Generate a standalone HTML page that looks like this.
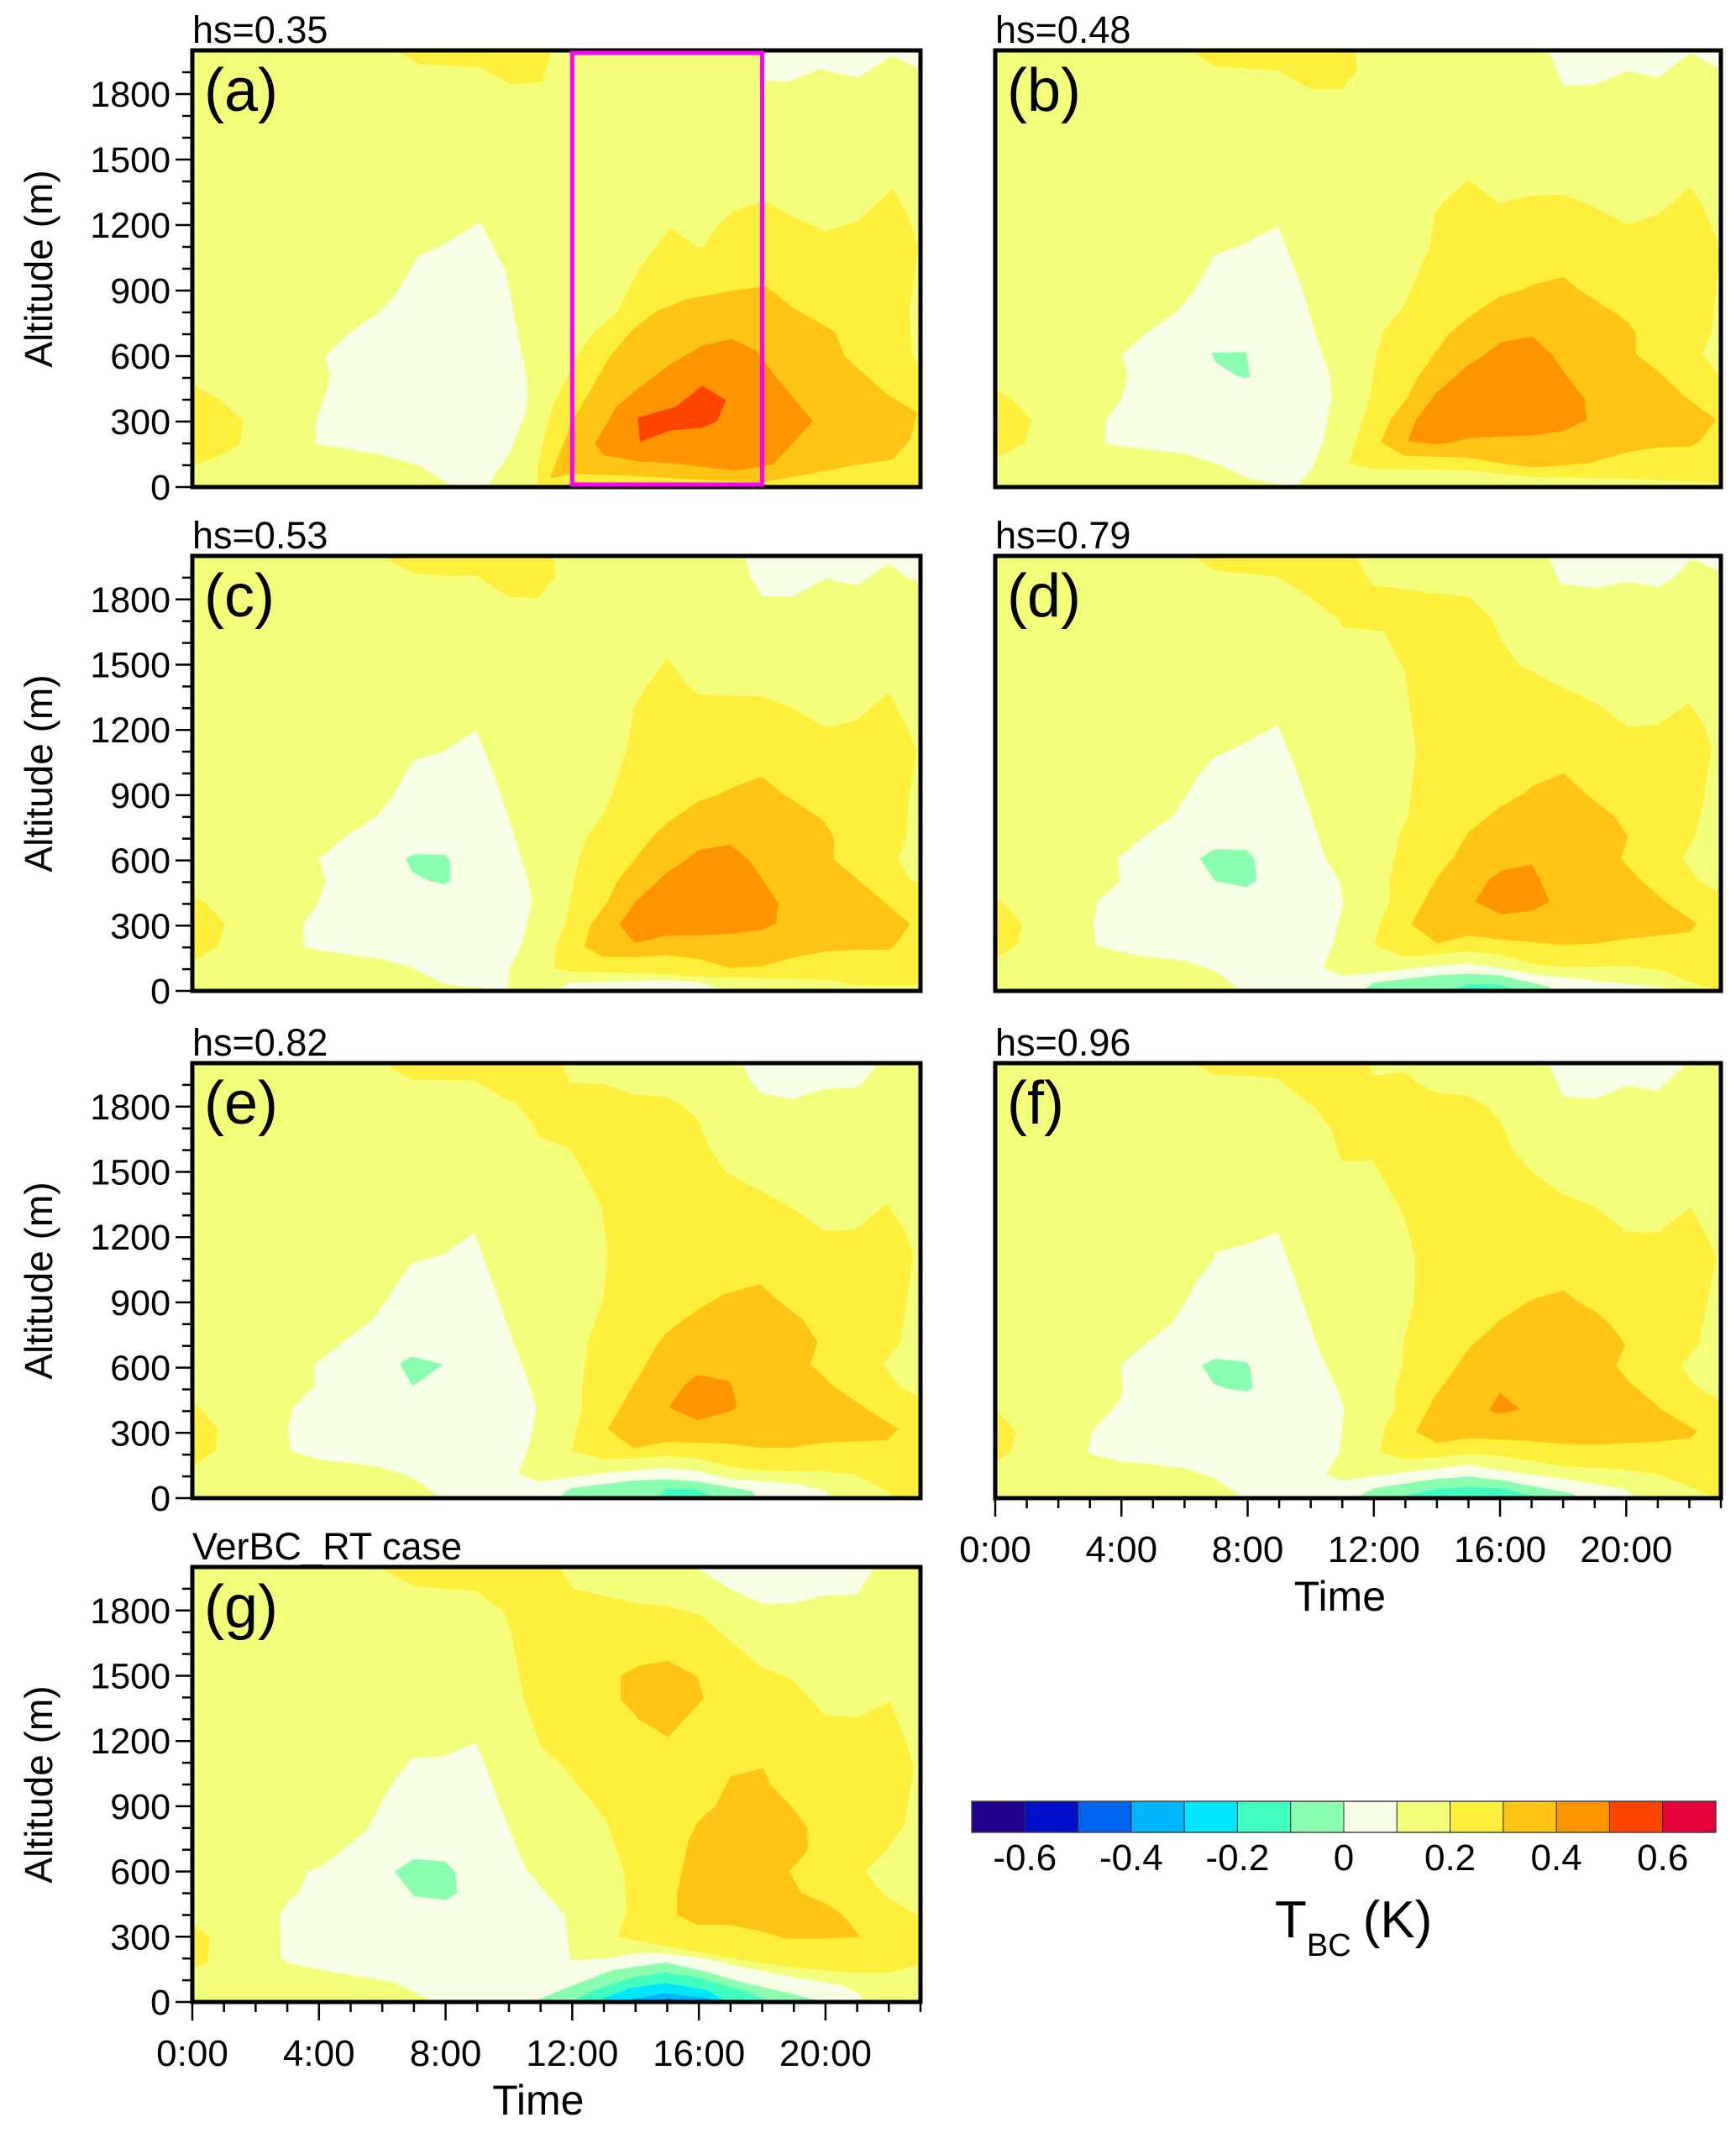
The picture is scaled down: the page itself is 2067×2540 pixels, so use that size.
<!DOCTYPE html>
<html><head><meta charset="utf-8">
<style>
html,body{margin:0;padding:0;background:#fff;}
svg{display:block;font-family:"Liberation Sans",Arial,sans-serif;}
</style></head>
<body>
<svg id="fig" width="2067" height="2540" viewBox="0 0 2067 2540" xmlns="http://www.w3.org/2000/svg"></svg>
<script>
// ---------- DATA (hours, metres) ----------
const levelBounds = [-0.7,-0.6,-0.5,-0.4,-0.3,-0.2,-0.1,0,0.1,0.2,0.3,0.4,0.5,0.6,0.7];
const levelColors = ['#22008f','#0010c8','#0066ee','#00b4ff','#00e6ff','#40ffc0','#8affb0','#f6ffe6','#f3ff7a','#ffee3c','#ffc414','#ff9400','#ff4400','#e4003a'];
const cbTickLabels = ['-0.6','-0.4','-0.2','0','0.2','0.4','0.6'];
const cbTickValues = [-0.6,-0.4,-0.2,0,0.2,0.4,0.6];
const yTickValues = [0,300,600,900,1200,1500,1800];
const xTickValues = [0,4,8,12,16,20];
const xTickLabels = ['0:00','4:00','8:00','12:00','16:00','20:00'];
const hsTitles = ['hs=0.35','hs=0.48','hs=0.53','hs=0.79','hs=0.82','hs=0.96','VerBC_RT case'];
const highlightWindow = [12,18];

// panel a
const aWhite=[[3.9,200],[3.9,300],[4.2,420],[4.35,510],[4.2,600],[5,710],[5.9,800],[6.5,900],[7.15,1060],[7.8,1100],[9.1,1215],[9.9,990],[10.5,540],[10.6,420],[10.5,330],[10,150],[9.3,0],[8.2,0],[7.15,100],[5.9,150],[4.2,190]];
const aWhiteTop=[[18,2000],[18,1863],[18.8,1856],[19.85,1915],[20.3,1895],[21.06,1878],[22.1,1975],[23,1915],[23,2000]];
const aYellowTop=[[6.4,2000],[7.15,1937],[9.1,1922],[10,1846],[11.07,1856],[11.35,2000]];
const aYellowLeft=[[0,471],[0.9,398],[1.6,302],[1.5,199],[1.08,155],[0,96]];
const aYellow=[[10.9,0],[10.9,100],[11.35,360],[12.2,610],[12.75,720],[13.4,795],[14.15,1010],[15.1,1185],[16.1,1090],[16.6,1200],[17.1,1265],[18.1,1310],[18.8,1250],[20,1170],[21.06,1220],[22.1,1365],[22.56,1260],[22.93,1100],[22.65,800],[22.75,600],[23,550],[23,0]];
const aGold=[[11.3,40],[11.5,120],[12,300],[12.6,450],[13.2,600],[13.9,720],[14.6,800],[15.6,860],[17.1,900],[18.1,920],[19,820],[20.3,710],[20.6,600],[21.9,430],[22.9,340],[22.65,210],[22.1,125],[20.9,100],[19.5,60],[18,22],[16.5,30],[14.1,50],[12,60]];
const aOrange=[[12.72,199],[13.0,147],[14.06,118],[15.08,110],[17.14,74],[18.35,103],[19.6,302],[18.45,501],[17.8,626],[17.05,678],[16.11,648],[15.08,560],[14.06,449],[13.4,368]];
const aRed=[[14.06,317],[14.15,206],[15.08,258],[16.11,272],[16.58,302],[16.86,398],[16.11,464],[15.27,368]];

// panel b
const bYellowTop=[[6.19,2000],[6.96,1927],[8.96,1908],[9.99,1823],[10.98,1823],[11.47,1908],[11.42,2000]];
const bWhiteTop=[[17.54,2000],[18.01,1836],[19.01,1844],[20.02,1905],[21.0,1876],[22.04,1987],[23,1913],[23,2000]];
const bWhite=[[4.02,609],[4.86,714],[5.79,808],[6.37,910],[6.96,1064],[7.77,1105],[8.96,1195],[9.73,910],[10.17,692],[10.61,506],[10.66,404],[10.39,205],[10.02,77],[9.51,0],[8.03,39],[7.0,109],[5.97,154],[3.98,186],[3.46,205],[3.51,308],[4.01,404],[4.2,506]];
const bGreen=[[6.85,615],[7.96,618],[8.08,506],[7.96,497],[7.66,510],[7.0,570]];
const bYellowLeft=[[0,449],[0.52,404],[1.15,308],[0.96,205],[0,128]];
const bYellow=[[11.2,109],[11.87,404],[12.09,609],[12.31,712],[12.97,833],[13.78,1103],[13.93,1250],[14.22,1308],[15.0,1408],[15.99,1295],[16.14,1308],[17.02,1336],[18.01,1338],[18.72,1301],[20.02,1203],[21.0,1246],[22.04,1372],[22.4,1295],[22.92,1115],[23,1103],[22.7,705],[22.4,609],[23,506],[23,19],[20.05,39],[17.1,45],[15.03,77],[11.94,83]];
const bGold=[[12.23,205],[12.53,308],[13.04,404],[13.41,506],[14.37,699],[15.0,776],[15.99,872],[16.73,904],[17.02,926],[18.01,962],[18.5,904],[19.68,795],[20.05,756],[20.31,705],[20.31,609],[21.0,532],[21.89,410],[22.85,308],[22.33,212],[22.04,186],[21.0,182],[20.05,160],[18.79,109],[17.1,90],[16.21,105],[15.0,135],[12.97,144]];
const bOrange=[[13.09,212],[13.34,308],[13.97,430],[15.0,558],[15.48,603],[16.04,664],[17.02,689],[17.66,605],[18.06,519],[18.69,404],[18.75,308],[18.01,256],[17.02,237],[15.99,231],[15.0,224],[14.59,208],[13.97,195]];

// panel c
const cYellowTop=[[5.97,2000],[6.96,1921],[7.96,1908],[8.96,1910],[9.99,1812],[10.91,1805],[11.47,1908],[11.42,2000]];
const cWhiteTop=[[17.47,2000],[17.61,1908],[18.01,1814],[18.98,1814],[20.02,1897],[21.0,1863],[21.99,1964],[22.55,1904],[22.92,1885],[23,2000]];
const cWhite=[[4.01,609],[4.86,712],[5.82,801],[6.34,897],[6.96,1058],[7.96,1103],[8.96,1199],[9.58,974],[10.17,718],[10.61,506],[10.73,404],[10.39,205],[10.02,103],[9.95,0],[7.96,32],[6.96,105],[5.97,147],[4.01,186],[3.51,205],[3.51,308],[3.98,404],[4.2,506]];
const cGreen=[[6.75,605],[7.0,628],[7.96,626],[8.14,603],[8.14,506],[7.96,490],[7.49,506],[6.96,545]];
const cYellowLeft=[[0,436],[0.44,404],[1.03,308],[0.81,205],[0,135]];
const cYellow=[[11.42,105],[11.5,212],[11.79,308],[12.06,506],[12.23,609],[12.46,712],[12.97,808],[13.27,904],[13.71,1109],[13.97,1308],[14.37,1404],[15.0,1530],[15.62,1410],[15.99,1363],[18.01,1353],[18.94,1301],[20.02,1212],[21.0,1244],[21.99,1369],[22.55,1218],[22.88,1103],[22.63,897],[22.55,705],[22.29,603],[22.7,506],[23,500],[23,26],[21.0,26],[20.02,51],[15.99,64],[15.0,77],[11.94,90]];
const cGold=[[12.38,205],[12.6,308],[13.09,404],[13.44,506],[14.56,712],[15.0,772],[15.99,872],[16.66,904],[17.02,933],[17.98,985],[18.69,904],[19.75,801],[19.97,776],[20.27,705],[20.27,605],[21.74,423],[22.67,308],[22.18,208],[21.99,190],[21.0,189],[20.02,182],[19.01,154],[17.98,115],[17.02,105],[15.99,147],[15.0,164],[13.97,156],[12.97,156]];
const cOrange=[[13.49,305],[13.97,404],[14.71,506],[15.0,545],[15.55,596],[15.99,647],[16.98,673],[17.57,603],[18.01,513],[18.5,404],[18.43,308],[18.01,282],[17.02,263],[15.99,256],[15.0,254],[13.97,221]];
const cWhiteBottom=[[11.5,0],[11.94,39],[15.0,49],[15.99,41],[16.88,0]];

// panel d
const dYellow=[[6.26,2000],[11.42,2000],[11.79,1904],[11.97,1865],[13.93,1827],[15.03,1812],[15.74,1708],[16.04,1609],[16.58,1503],[17.84,1404],[19.09,1321],[20.02,1215],[21.0,1224],[21.99,1323],[22.48,1218],[22.7,1109],[22.4,833],[22.18,712],[21.79,609],[22.26,513],[23,449],[23,0],[22.18,32],[21.08,96],[20.05,115],[18.01,109],[17.1,122],[15.99,167],[15.0,182],[12.97,156],[12.01,212],[12.23,321],[12.5,410],[12.5,506],[12.65,609],[12.79,712],[13.09,801],[13.34,1103],[13.12,1333],[13.0,1462],[12.9,1494],[12.31,1654],[10.98,1673],[10.91,1705],[9.99,1808],[8.96,1904],[6.96,1933]];
const dWhiteTop=[[17.54,2000],[17.91,1872],[19.01,1853],[20.02,1882],[21.05,1856],[21.59,1908],[22.04,1985],[23,1929],[23,2000]];
const dWhite=[[3.86,609],[4.72,712],[5.67,808],[6.04,897],[6.31,955],[6.56,1013],[6.96,1077],[7.59,1115],[8.96,1224],[9.58,1000],[10.02,808],[10.47,609],[10.91,506],[11.03,404],[10.69,205],[10.39,109],[10.98,71],[12.01,83],[13.93,115],[15.0,126],[15.99,105],[17.1,77],[19.16,45],[21.08,19],[21.67,0],[7.81,0],[6.96,92],[5.97,139],[5.01,154],[3.91,180],[3.17,212],[3.12,308],[3.24,410],[3.98,506]];
const dGreen=[[6.49,609],[6.96,651],[7.96,647],[8.22,609],[8.28,506],[7.96,477],[6.96,506]];
const dGreenBottom=[[11.64,0],[12.01,39],[13.97,71],[15.0,79],[15.99,71],[17.54,19],[17.69,0]];
const dAquaBottom=[[14.52,0],[15.0,32],[15.99,28],[16.51,0]];
const dYellowLeft=[[0,423],[0.22,410],[0.85,308],[0.71,212],[0,148]];
const dGold=[[13.19,308],[13.56,404],[13.97,513],[14.56,622],[15.0,731],[15.99,846],[16.73,904],[17.02,942],[18.01,1000],[18.69,910],[19.6,808],[20.05,712],[19.83,609],[20.34,526],[21.23,410],[22.23,310],[22.04,272],[21.08,256],[20.05,241],[19.01,218],[18.01,212],[17.1,224],[15.99,237],[15.0,254],[14.0,218]];
const dOrange=[[15.21,410],[15.62,506],[16.04,554],[17.02,580],[17.28,506],[17.57,410],[17.02,369],[16.04,353]];

// panel e
const eYellow=[[6.07,2000],[6.93,1923],[8.92,1921],[9.91,1833],[10.24,1814],[10.79,1718],[10.94,1660],[11.91,1609],[12.31,1513],[12.68,1410],[12.94,1333],[13.12,1115],[12.97,910],[12.5,718],[12.31,513],[12.31,423],[12.16,327],[11.97,218],[12.97,180],[13.93,182],[14.96,195],[15.92,182],[16.95,147],[17.98,126],[19.97,122],[20.93,109],[22.04,26],[22.1,0],[23,0],[23,462],[22.33,513],[21.82,615],[22.38,718],[22.77,1115],[22.55,1218],[21.93,1353],[20.93,1233],[19.93,1231],[19.09,1321],[17.91,1417],[16.95,1487],[16.8,1506],[16.29,1622],[15.95,1744],[15.4,1814],[14.96,1844],[13.93,1856],[12.94,1904],[11.94,1910],[11.64,2000]];
const eWhiteTop=[[17.39,2000],[17.61,1923],[17.95,1862],[18.94,1833],[19.93,1882],[20.96,1885],[21.23,1917],[21.67,2000]];
const eWhite=[[3.86,615],[4.72,714],[5.67,818],[6.16,913],[6.34,962],[6.93,1080],[7.89,1118],[8.92,1221],[9.43,1013],[10.17,705],[10.54,564],[10.88,417],[10.61,224],[10.29,115],[10.91,77],[12.97,115],[14.96,141],[15.92,126],[16.95,90],[19.16,64],[20.05,32],[20.05,0],[7.89,0],[6.93,96],[5.9,144],[3.91,180],[3.1,218],[3.02,321],[3.17,417],[3.86,513]];
const eGreen=[[6.56,618],[6.93,651],[7.92,615],[6.96,515]];
const eGreenBottom=[[11.57,0],[11.94,45],[13.93,80],[14.96,87],[15.92,77],[17.69,32],[17.84,0]];
const eAquaBottom=[[14.74,0],[14.96,45],[15.92,41],[16.51,0]];
const eYellowLeft=[[0,430],[0.22,417],[0.81,318],[0.74,218],[0,144]];
const eGold=[[13.12,318],[13.86,500],[14.74,718],[14.96,759],[15.92,862],[16.8,938],[17.95,985],[18.43,917],[19.28,821],[19.75,718],[19.53,615],[20.27,513],[21.23,417],[22.29,318],[21.96,267],[19.97,256],[18.91,233],[17.95,231],[16.95,250],[14.96,259],[13.94,228]];
const eOrange=[[15.06,417],[15.52,515],[15.95,567],[16.95,538],[17.05,513],[17.2,417],[16.95,397],[15.95,359]];

// panel f
const fYellow=[[6.26,2000],[6.96,1946],[7.96,1942],[8.96,1929],[9.21,1897],[10.1,1801],[10.61,1705],[10.98,1551],[11.97,1551],[12.38,1449],[12.94,1301],[13.09,1231],[13.31,1103],[13.27,897],[13.09,801],[12.94,712],[12.9,609],[12.68,506],[12.68,410],[12.35,327],[12.2,212],[12.97,180],[13.93,186],[14.96,205],[15.99,195],[16.95,173],[17.98,147],[19.97,131],[21.0,109],[22.04,51],[22.55,19],[22.7,0],[23,0],[23,449],[22.18,519],[21.74,609],[22.33,712],[22.55,885],[22.85,1103],[22.55,1205],[22.04,1336],[21.0,1221],[20.02,1224],[18.98,1340],[17.91,1404],[17.02,1500],[16.39,1603],[16.04,1724],[15.6,1801],[15.0,1849],[13.97,1865],[13.41,1904],[12.97,1959],[12.01,1942],[11.79,2000]];
const fWhiteTop=[[17.54,2000],[18.01,1846],[19.01,1836],[20.02,1897],[21.0,1872],[21.89,1994],[21.9,2000]];
const fWhite=[[3.98,609],[4.79,712],[5.6,805],[6.07,910],[6.41,1006],[6.93,1096],[6.96,1128],[7.96,1167],[8.96,1221],[9.58,974],[10.17,718],[10.49,609],[10.83,506],[11.06,410],[10.91,212],[10.49,109],[10.98,83],[12.97,118],[15.0,154],[15.99,128],[17.98,90],[19.97,41],[20.34,0],[7.89,0],[6.96,90],[5.97,139],[3.98,169],[2.92,205],[3.07,308],[3.95,449],[4.05,506]];
const fGreen=[[6.56,609],[6.96,641],[7.96,626],[8.08,603],[8.15,506],[7.96,490],[7.3,506],[6.93,526]];
const fGreenBottom=[[11.42,0],[12.01,45],[13.93,87],[15.0,99],[15.99,83],[18.35,19],[18.43,0]];
const fAquaBottom=[[12.68,0],[13.93,41],[15.0,51],[15.99,45],[17.39,0]];
const fYellowLeft=[[0,410],[0.66,308],[0.47,208],[0,164]];
const fGold=[[13.34,305],[13.93,468],[14.3,538],[15.0,686],[15.99,818],[17.02,913],[18.01,955],[18.5,900],[19.01,859],[19.49,801],[19.97,705],[19.68,609],[20.12,532],[21.15,404],[22.26,308],[22.04,276],[21.0,260],[19.01,246],[17.98,250],[17.02,263],[15.0,276],[14.0,254]];
const fOrange=[[15.65,404],[15.99,485],[16.63,408],[15.99,387]];

// panel g
const gYellow=[[5.97,2000],[6.44,1954],[7.09,1909],[8.96,1891],[9.86,1791],[10.08,1691],[10.46,1400],[11.02,1173],[11.67,1091],[13.07,836],[13.63,600],[13.72,418],[13.44,300],[14.66,264],[16.43,218],[17.46,191],[19.23,155],[20.72,136],[22.03,136],[22.96,173],[23,173],[23,391],[21.84,491],[21.25,600],[21.94,700],[22.5,818],[22.78,1073],[22.59,1182],[22.03,1382],[21.0,1309],[19.98,1318],[18.95,1482],[17.92,1545],[16.06,1778],[14.94,1822],[14.1,1831],[12.04,1900],[11.58,2000]];
const gWhiteTop=[[15.87,2000],[16.99,1900],[18.02,1831],[18.95,1833],[19.98,1869],[21.0,1873],[21.56,2000]];
const gWhite=[[2.76,400],[3.08,473],[3.36,500],[3.64,600],[4.01,618],[4.67,691],[5.51,791],[6.25,991],[6.91,1118],[7.93,1131],[8.96,1191],[9.34,1054],[9.99,800],[10.55,609],[11.76,400],[11.95,191],[13.07,200],[14.1,227],[15.03,222],[16.24,200],[17.55,155],[19.23,109],[20.54,76],[21.1,33],[21.19,0],[7.65,0],[6.35,91],[4.11,145],[2.99,182],[2.8,200]];
const gGreen=[[6.39,600],[7.0,658],[7.99,645],[8.31,596],[8.36,500],[8.02,469],[7.0,487]];
const gLightGreenBottom=[[10.74,0],[11.95,73],[13.26,145],[14.94,182],[16.06,145],[17.46,87],[18.86,40],[19.98,0]];
const gAquaBottom=[[11.95,0],[12.7,55],[13.82,109],[14.94,136],[16.06,109],[17.36,55],[18.3,0]];
const gCyanBottom=[[12.7,0],[13.82,64],[14.94,87],[16.24,55],[16.9,0]];
const gSkyBottom=[[13.44,0],[14.94,40],[16.24,18],[16.62,0]];
const gBlueBottom=[[14.38,0],[15.03,15],[15.68,0]];
const gGold1=[[13.54,1500],[14.1,1546],[15.03,1568],[15.96,1495],[16.15,1396],[15.03,1218],[14.1,1300],[13.54,1391]];
const gGold2=[[15.31,500],[15.68,745],[15.96,827],[16.52,900],[16.99,1036],[18.02,1076],[18.26,1000],[18.95,895],[19.42,800],[19.45,700],[18.86,600],[19.23,500],[19.98,455],[20.54,400],[21.1,300],[19.79,291],[18.76,291],[17.92,327],[16.99,355],[15.96,355],[15.31,400]];
const gYellowLeft=[[0,355],[0.56,300],[0.47,182],[0,155]];

// layers: [polygon, colour index]
const layersA=[[aWhite,7],[aWhiteTop,7],[aYellowTop,9],[aYellowLeft,9],[aYellow,9],[aGold,10],[aOrange,11],[aRed,12]];
const layersB=[[bWhite,7],[bGreen,6],[bWhiteTop,7],[bYellowTop,9],[bYellowLeft,9],[bYellow,9],[bGold,10],[bOrange,11]];
const layersC=[[cWhite,7],[cGreen,6],[cWhiteTop,7],[cYellowTop,9],[cYellowLeft,9],[cYellow,9],[cGold,10],[cOrange,11],[cWhiteBottom,7]];
const layersD=[[dWhite,7],[dGreen,6],[dGreenBottom,6],[dAquaBottom,5],[dWhiteTop,7],[dYellowLeft,9],[dYellow,9],[dGold,10],[dOrange,11]];
const layersE=[[eWhite,7],[eGreen,6],[eGreenBottom,6],[eAquaBottom,5],[eWhiteTop,7],[eYellowLeft,9],[eYellow,9],[eGold,10],[eOrange,11]];
const layersF=[[fWhite,7],[fGreen,6],[fGreenBottom,6],[fAquaBottom,5],[fWhiteTop,7],[fYellowLeft,9],[fYellow,9],[fGold,10],[fOrange,11]];
const layersG=[[gWhite,7],[gGreen,6],[gLightGreenBottom,6],[gAquaBottom,5],[gCyanBottom,4],[gSkyBottom,3],[gBlueBottom,2],[gWhiteTop,7],[gYellowLeft,9],[gYellow,9],[gGold1,10],[gGold2,10]];

// ---------- LAYOUT ----------
const NS='http://www.w3.org/2000/svg';
const svg=document.getElementById('fig');
function mk(tag,attrs,parent){const e=document.createElementNS(NS,tag);for(const k in attrs)e.setAttribute(k,attrs[k]);(parent||svg).appendChild(e);return e;}
const HMAX=23, AMAX=2000;
const panels=[
 {id:'a',layers:layersA,x:229,y:60,w:867,h:520,left:true,xlab:false,title:0},
 {id:'b',layers:layersB,x:1185,y:60,w:864,h:520,left:false,xlab:false,title:1},
 {id:'c',layers:layersC,x:229,y:662,w:867,h:518,left:true,xlab:false,title:2},
 {id:'d',layers:layersD,x:1185,y:662,w:864,h:518,left:false,xlab:false,title:3},
 {id:'e',layers:layersE,x:229,y:1266,w:867,h:518,left:true,xlab:false,title:4},
 {id:'f',layers:layersF,x:1185,y:1266,w:864,h:518,left:false,xlab:true,title:5},
 {id:'g',layers:layersG,x:229,y:1866,w:867,h:518,left:true,xlab:true,title:6}
];
panels.forEach(p=>{
  const xs=h=>p.x+h/HMAX*p.w;
  const ys=a=>p.y+p.h-a/AMAX*p.h;
  const g=mk('g',{});
  
  
  const cp=mk('clipPath',{id:'clip-'+p.id},g);
  mk('rect',{x:p.x,y:p.y,width:p.w,height:p.h},cp);
  const plot=mk('g',{'clip-path':'url(#clip-'+p.id+')'},g);
  const bg=mk('rect',{x:p.x,y:p.y,width:p.w,height:p.h,fill:levelColors[8]},plot);
  
  
  p.layers.forEach(([poly,ci])=>{
    const pts=poly.map(([h,a])=>xs(h).toFixed(1)+','+ys(a).toFixed(1)).join(' ');
    const el=mk('polygon',{points:pts,fill:levelColors[ci]},plot);
    
    
  });
  const fr=mk('rect',{x:p.x,y:p.y,width:p.w,height:p.h,fill:'none',stroke:'#000','stroke-width':5},g);
  
  
  if(p.id==='a'){
    const hb=mk('rect',{x:xs(highlightWindow[0]),y:p.y+3,width:xs(highlightWindow[1])-xs(highlightWindow[0]),height:p.h-6,fill:'none',stroke:'#ff00ff','stroke-width':5},g);
    
    
  }
  const tl=mk('text',{x:p.x+14,y:p.y+72,'font-size':72,fill:'#000'},g);
  tl.textContent='('+p.id+')';
  
  
  const tt=mk('text',{x:p.x,y:p.y-9,'font-size':45,fill:'#000'},g);
  tt.textContent=hsTitles[p.title];
  
  
  if(p.left){
    for(let a=0;a<=1900;a+=100){
      const major=yTickValues.includes(a);
      mk('line',{x1:p.x-(major?20:12),x2:p.x,y1:ys(a),y2:ys(a),stroke:'#000','stroke-width':2.5},g);
    }
    yTickValues.forEach(v=>{
      const t=mk('text',{x:p.x-26,y:ys(v)+15,'font-size':43,'text-anchor':'end',fill:'#000'},g);
      t.textContent=String(v);
      
      
    });
    const yl=mk('text',{x:0,y:0,'font-size':46,'text-anchor':'middle',fill:'#000',transform:'translate(62,'+(p.y+p.h/2)+') rotate(-90)'},g);
    yl.textContent='Altitude (m)';
    
    
  }
  if(p.xlab){
    const by=p.y+p.h;
    for(let h=0;h<=23;h++){
      const major=xTickValues.includes(h);
      mk('line',{x1:xs(h),x2:xs(h),y1:by,y2:by+(major?22:12),stroke:'#000','stroke-width':2.5},g);
    }
    xTickValues.forEach((v,i)=>{
      const t=mk('text',{x:xs(v),y:by+76,'font-size':44,'text-anchor':'middle',fill:'#000'},g);
      t.textContent=xTickLabels[i];
      
      
    });
    const xl=mk('text',{x:p.x+p.w*0.475,y:by+134,'font-size':50,'text-anchor':'middle',fill:'#000'},g);
    xl.textContent='Time';
    
    
  }
});

// ---------- COLORBAR ----------
const cb={x:1157,y:2145,w:886,h:37};
const cbx=v=>cb.x+(v-levelBounds[0])/(levelBounds[levelBounds.length-1]-levelBounds[0])*cb.w;
const cbg=mk('g',{});


levelColors.forEach((c,i)=>{
  const r=mk('rect',{x:cbx(levelBounds[i]),y:cb.y,width:cbx(levelBounds[i+1])-cbx(levelBounds[i]),height:cb.h,fill:c,stroke:'#333','stroke-width':1},cbg);
  
  
});
mk('rect',{x:cb.x,y:cb.y,width:cb.w,height:cb.h,fill:'none',stroke:'#444','stroke-width':1.5},cbg);
cbTickValues.forEach((v,i)=>{
  const t=mk('text',{x:cbx(v),y:2227,'font-size':44,'text-anchor':'middle',fill:'#000'},cbg);
  t.textContent=cbTickLabels[i];
  
  
});
const ct=mk('text',{x:1518,y:2307,'font-size':62,fill:'#000'},cbg);


const t1=mk('tspan',{},ct);t1.textContent='T';
const t2=mk('tspan',{'font-size':38,dy:22},ct);t2.textContent='BC';
const t3=mk('tspan',{dy:-22,dx:14},ct);t3.textContent='(K)';
</script>
</body></html>
